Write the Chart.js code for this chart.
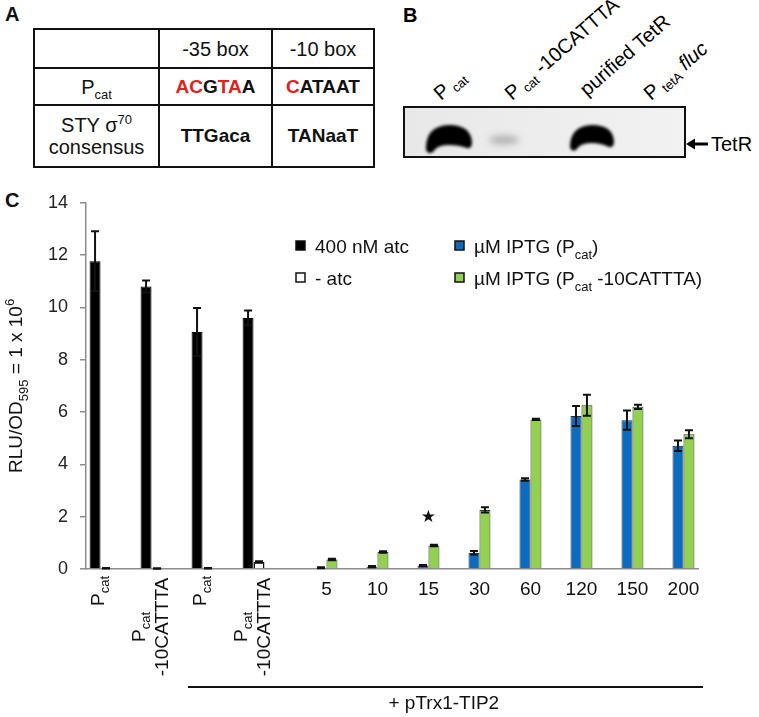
<!DOCTYPE html>
<html>
<head>
<meta charset="utf-8">
<script src="https://cdn.jsdelivr.net/npm/chart.js@4.4.1/dist/chart.umd.min.js"></script>
<style>
  body { margin: 0; width: 759px; height: 717px; background: #fff; position: relative; overflow: hidden;
         font-family: "Liberation Sans", Arial, sans-serif; color: #111; }
  .lbl { position: absolute; font-weight: bold; font-size: 20px; line-height: 20px; }
  #tbl { position: absolute; left: 33px; top: 28px; border-collapse: collapse; table-layout: fixed;
         width: 340px; font-size: 20px; }
  #tbl td { border: 2px solid #111; text-align: center; padding: 0; line-height: 22px; }
  #tbl .b { font-weight: bold; font-size: 19px; }
  #tbl .r { color: #e3201b; }
  #tbl sub { font-size: 13px; vertical-align: -5px; line-height: 0; }
  #tbl sup { font-size: 13px; vertical-align: 8px; line-height: 0; }
  #gel { position: absolute; left: 380px; top: 0; }
  #chartBox { position: absolute; left: 0; top: 180px; width: 759px; height: 537px; }
</style>
</head>
<body>

<div class="lbl" style="left:5px;top:4px">A</div>
<table id="tbl">
  <colgroup><col style="width:125px"><col style="width:113px"><col style="width:102px"></colgroup>
  <tr style="height:39px"><td></td><td>-35 box</td><td>-10 box</td></tr>
  <tr style="height:37px"><td>P<sub>cat</sub></td>
    <td class="b"><span class="r">AC</span>G<span class="r">TA</span>A</td>
    <td class="b"><span class="r">C</span>ATAAT</td></tr>
  <tr style="height:62px"><td>STY σ<sup>70</sup><br>consensus</td><td class="b">TTGaca</td><td class="b">TANaaT</td></tr>
</table>

<svg id="gel" width="379" height="180" font-family="Liberation Sans, Arial, sans-serif">
  <defs>
    <filter id="soft" x="-20%" y="-40%" width="140%" height="180%"><feGaussianBlur stdDeviation="1.4"/></filter>
    <filter id="faint" x="-50%" y="-100%" width="200%" height="300%"><feGaussianBlur stdDeviation="3"/></filter>
    <linearGradient id="bg" x1="0" x2="1" y1="0" y2="0">
      <stop offset="0" stop-color="#e8e8e8"/><stop offset="1" stop-color="#f2f2f2"/>
    </linearGradient>
  </defs>
  <text x="23" y="22" font-size="20" font-weight="bold">B</text>
  <rect x="24" y="107" width="281" height="50" fill="url(#bg)" stroke="#111" stroke-width="2"/>
  <path d="M46,150 Q45,126 69,125 Q92,125 92,144 Q91,149 87,148 Q79,145 68,145 Q57,145 53,152 Q48,155 46,150 Z" fill="#000" filter="url(#soft)"/>
  <ellipse cx="124" cy="140" rx="15" ry="5" fill="#b8b8b8" filter="url(#faint)"/>
  <path d="M190,147 Q190,126 212,125 Q234,125 234,143 Q233,148 229,147 Q221,143 211,143 Q200,143 196,150 Q191,152 190,147 Z" fill="#000" filter="url(#soft)"/>
  <line x1="312" y1="144" x2="328" y2="144" stroke="#000" stroke-width="3"/>
  <polygon points="306,144 315,138.5 315,149.5" fill="#000"/>
  <text x="331" y="151" font-size="20">TetR</text>
  <text transform="translate(61,101) rotate(-41)" font-size="20">P<tspan font-size="13" dy="4"> cat</tspan></text>
  <text transform="translate(132,101) rotate(-41)" font-size="20">P<tspan font-size="13" dy="4"> cat</tspan><tspan dy="-4"> -10CATTTA</tspan></text>
  <text transform="translate(207,97) rotate(-41)" font-size="20">purified TetR</text>
  <text transform="translate(271,101) rotate(-41)" font-size="20">P<tspan font-size="13" dy="4"> tetA</tspan><tspan dy="-4" font-style="italic"> fluc</tspan></text>
</svg>

<div class="lbl" style="left:5px;top:190px">C</div>
<div id="chartBox"><canvas id="myChart"></canvas></div>

<script>
// categories: "_{..}" marks a subscript, "|" splits a label into two lines
const categories = ['P_{cat}', 'P_{cat}|-10CATTTA', 'P_{cat}', 'P_{cat}|-10CATTTA',
                    '5', '10', '15', '30', '60', '120', '150', '200'];
const yTicks = [0, 2, 4, 6, 8, 10, 12, 14];

const atc400 =    [11.77, 10.80, 9.06, 9.60, null, null, null, null, null, null, null, null];
const atc400Err = [1.14, 0.23, 0.92, 0.28, null, null, null, null, null, null, null, null];
const noAtc =     [0.03, 0.02, 0.03, 0.27, null, null, null, null, null, null, null, null];
const noAtcErr =  [0.01, 0.01, 0.01, 0.03, null, null, null, null, null, null, null, null];
const iptgPcat =    [null, null, null, null, 0.05, 0.09, 0.13, 0.62, 3.42, 5.85, 5.69, 4.71];
const iptgPcatErr = [null, null, null, null, 0.02, 0.02, 0.02, 0.07, 0.05, 0.38, 0.37, 0.20];
const iptgMut =     [null, null, null, null, 0.36, 0.65, 0.90, 2.26, 5.72, 6.26, 6.20, 5.15];
const iptgMutErr =  [null, null, null, null, 0.03, 0.03, 0.03, 0.10, 0.02, 0.40, 0.08, 0.15];

const seriesLabels = ['400 nM atc', '- atc', 'µM IPTG (P_{cat})', 'µM IPTG (P_{cat} -10CATTTA)'];
const groupNote = '+ pTrx1-TIP2';
const starIndex = 6;   // the "15" group carries a star
const starValue = 1.95;

const FONT = '"Liberation Sans", Arial, sans-serif';

// split "P_{cat} x" into plain / subscript / superscript pieces
function parseRich(s) {
    const parts = [];
    const re = /_\{([^}]*)\}|\^\{([^}]*)\}|[^_^]+/g;
    let m;
    while ((m = re.exec(s)) !== null) {
        if (m[1] !== undefined) parts.push({ t: m[1], sub: true });
        else if (m[2] !== undefined) parts.push({ t: m[2], sup: true });
        else parts.push({ t: m[0] });
    }
    return parts;
}

function drawRich(ctx, s, x, y, size, align) {
    const parts = parseRich(s);
    let w = 0;
    parts.forEach(p => {
        p.size = (p.sub || p.sup) ? Math.round(size * 0.68) : size;
        ctx.font = p.size + 'px ' + FONT;
        p.w = ctx.measureText(p.t).width;
        w += p.w;
    });
    let cx = align === 'center' ? x - w / 2 : align === 'right' ? x - w : x;
    ctx.textAlign = 'left';
    ctx.textBaseline = 'alphabetic';
    parts.forEach(p => {
        ctx.font = p.size + 'px ' + FONT;
        const dy = p.sub ? size * 0.3 : p.sup ? -size * 0.42 : 0;
        ctx.fillText(p.t, cx, y + dy);
        cx += p.w;
    });
}

const errorBars = {
    id: 'errorBars',
    afterDatasetsDraw(chart) {
        const ctx = chart.ctx;
        const yScale = chart.scales.y;
        ctx.save();
        ctx.strokeStyle = '#111';
        ctx.lineWidth = 2;
        chart.data.datasets.forEach((ds, di) => {
            const meta = chart.getDatasetMeta(di);
            meta.data.forEach((bar, i) => {
                const v = ds.data[i], e = ds.errors[i];
                if (v == null || e == null) return;
                const top = yScale.getPixelForValue(v + e);
                const bot = yScale.getPixelForValue(Math.max(0, v - e));
                ctx.beginPath();
                ctx.moveTo(bar.x, top); ctx.lineTo(bar.x, bot);
                ctx.moveTo(bar.x - 4, top); ctx.lineTo(bar.x + 4, top);
                ctx.moveTo(bar.x - 4, bot); ctx.lineTo(bar.x + 4, bot);
                ctx.stroke();
            });
        });
        ctx.restore();
    }
};

const decorations = {
    id: 'decorations',
    afterDraw(chart) {
        const ctx = chart.ctx;
        const area = chart.chartArea;
        const xScale = chart.scales.x, yScale = chart.scales.y;
        const metas = [0, 1, 2, 3].map(i => chart.getDatasetMeta(i));
        ctx.save();
        ctx.fillStyle = '#111';

        // y-axis title
        ctx.save();
        ctx.translate(22, (area.top + area.bottom) / 2);
        ctx.rotate(-Math.PI / 2);
        drawRich(ctx, 'RLU/OD_{595} = 1 x 10^{6}', 0, 0, 19, 'center');
        ctx.restore();

        // category labels under the bar pairs
        categories.forEach((lab, i) => {
            const pair = atc400[i] != null ? [metas[0], metas[1]] : [metas[2], metas[3]];
            const cx = (pair[0].data[i].x + pair[1].data[i].x) / 2;
            const lines = lab.split('|');
            if (lines.length === 1 && !lab.startsWith('P')) {
                drawRich(ctx, lab, cx, area.bottom + 26, 19, 'center');
            } else if (lines.length === 1) {
                ctx.save();
                ctx.translate(cx + 3, area.bottom + 7);
                ctx.rotate(-Math.PI / 2);
                drawRich(ctx, lab, 0, 0, 19, 'right');
                ctx.restore();
            } else {
                const offs = [-7, 16];
                lines.forEach((ln, k) => {
                    ctx.save();
                    ctx.translate(cx + offs[k], area.bottom + 58);
                    ctx.rotate(-Math.PI / 2);
                    drawRich(ctx, ln, 0, 0, 19, 'center');
                    ctx.restore();
                });
            }
        });

        // bracket for the pTrx1-TIP2 groups
        const catW = xScale.getPixelForValue(1) - xScale.getPixelForValue(0);
        const x1 = xScale.getPixelForValue(2) - catW / 2;
        ctx.strokeStyle = '#111';
        ctx.lineWidth = 2;
        ctx.beginPath();
        ctx.moveTo(x1, area.bottom + 118);
        ctx.lineTo(area.right + 5, area.bottom + 118);
        ctx.stroke();
        drawRich(ctx, groupNote, xScale.getPixelForValue(5) + 22, area.bottom + 140, 19, 'left');

        // star
        const sx = (metas[2].data[starIndex].x + metas[3].data[starIndex].x) / 2;
        ctx.font = '17px "DejaVu Sans", sans-serif';
        ctx.textAlign = 'center';
        ctx.textBaseline = 'middle';
        ctx.fillText('★', sx, yScale.getPixelForValue(starValue));

        // legend
        const spots = [[296, 66], [296, 98], [455, 66], [455, 98]];
        chart.data.datasets.forEach((ds, i) => {
            const [lx, ly] = spots[i];
            ctx.fillStyle = ds.backgroundColor;
            ctx.fillRect(lx, ly - 5, 9, 9);
            ctx.strokeStyle = '#111';
            ctx.lineWidth = 1.5;
            ctx.strokeRect(lx, ly - 5, 9, 9);
            ctx.fillStyle = '#111';
            drawRich(ctx, ds.label, lx + 19, ly + 7, 19, 'left');
        });
        ctx.restore();
    }
};

const ctx = document.getElementById('myChart').getContext('2d');
const myChart = new Chart(ctx, {
    type: 'bar',
    data: {
        labels: categories,
        datasets: [
            { label: seriesLabels[0], data: atc400, errors: atc400Err,
              backgroundColor: '#000000', borderColor: '#000000', borderWidth: 1 },
            { label: seriesLabels[1], data: noAtc, errors: noAtcErr,
              backgroundColor: '#ffffff', borderColor: '#111111', borderWidth: 1.5 },
            { label: seriesLabels[2], data: iptgPcat, errors: iptgPcatErr,
              backgroundColor: '#0b6cbf', borderColor: '#1d2b3a', borderWidth: 1 },
            { label: seriesLabels[3], data: iptgMut, errors: iptgMutErr,
              backgroundColor: '#92d050', borderColor: '#2c3a1f', borderWidth: 1 }
        ]
    },
    options: {
        responsive: true,
        maintainAspectRatio: false,
        animation: false,
        categoryPercentage: 0.86,
        barPercentage: 1.0,
        layout: { padding: { top: 22, right: 61, left: 0, bottom: 0 } },
        plugins: {
            legend: { display: false },
            tooltip: { enabled: false }
        },
        scales: {
            x: {
                ticks: { display: false },
                grid: { display: false },
                border: { display: true, color: '#8c8c8c', width: 1.5 },
                afterFit: (scale) => { scale.height = 148; }
            },
            y: {
                min: 0,
                max: 14,
                afterBuildTicks: (scale) => { scale.ticks = yTicks.map(v => ({ value: v })); },
                ticks: { color: '#222', padding: 12, font: { size: 18, family: FONT } },
                grid: { drawOnChartArea: false, drawTicks: true, tickLength: 6, color: '#8c8c8c', lineWidth: 1.5 },
                border: { display: true, color: '#8c8c8c', width: 1.5 },
                afterFit: (scale) => { scale.width = 86; }
            }
        }
    },
    plugins: [errorBars, decorations]
});
</script>
</body>
</html>
